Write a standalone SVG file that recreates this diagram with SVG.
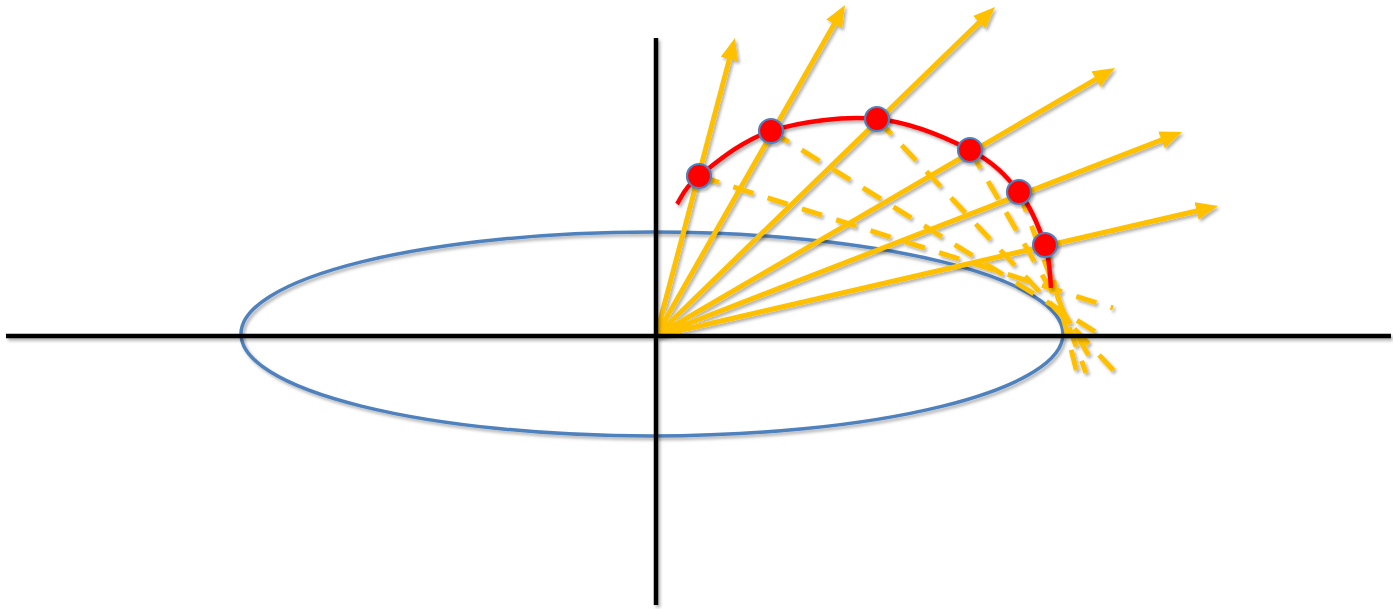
<svg xmlns="http://www.w3.org/2000/svg" width="1393" height="609" viewBox="0 0 1393 609">
<style>
.ray{stroke:#FFC000;stroke-width:5;fill:none;marker-end:url(#arr)}
.dash{stroke:#FFC000;stroke-width:5;fill:none;stroke-dasharray:21 15}
.axis{stroke:#000;stroke-width:4.5;fill:none}
.pt{fill:#FF0000;stroke:#4F81BD;stroke-width:2.2}
</style>
<defs>
<filter id="sh" x="-10%" y="-10%" width="130%" height="130%">
<feDropShadow dx="2" dy="2.5" stdDeviation="1.6" flood-color="#000" flood-opacity="0.3"/>
</filter>
<marker id="arr" viewBox="0 0 22 18" markerWidth="22" markerHeight="18" refX="10" refY="9" orient="auto" markerUnits="userSpaceOnUse">
<path d="M0,0 L22,9 L0,18 z" fill="#FFC000"/>
</marker>
</defs>
<rect width="1393" height="609" fill="#fff"/>
<g id="ellipse" filter="url(#sh)">
<ellipse cx="652" cy="334" rx="411" ry="102" fill="none" stroke="#4F81BD" stroke-width="3.5"/>
</g>
<g id="connectors" filter="url(#sh)">
<line class="ray" x1="656" y1="336" x2="731.9" y2="49.6"/>
<line class="ray" x1="656" y1="336" x2="839.1" y2="15.4"/>
<line class="ray" x1="656" y1="336" x2="986.4" y2="15.4"/>
<line class="ray" x1="656" y1="336" x2="1104.6" y2="74.1"/>
<line class="ray" x1="656" y1="336" x2="1170.8" y2="136.3"/>
<line class="ray" x1="656" y1="336" x2="1206.3" y2="208.7"/>
<line class="dash" x1="699" y1="176" x2="1113" y2="308"/>
<line class="dash" x1="771" y1="131" x2="1107" y2="339"/>
<line class="dash" x1="877" y1="119" x2="1116" y2="373"/>
<line class="dash" x1="970" y1="150" x2="1093" y2="363"/>
<line class="dash" x1="1019" y1="192" x2="1086" y2="373"/>
<line class="dash" x1="1045" y1="245" x2="1079" y2="381"/>
</g>
<g id="pedal-curve" filter="url(#sh)">
<path d="M677,204 C680.7,199.3 683.3,188.2 699,176 C714.7,163.8 741.3,140.5 771,131 C800.7,121.5 843.8,115.8 877,119 C910.2,122.2 946.3,137.8 970,150 C993.7,162.2 1006.5,176.2 1019,192 C1031.5,207.8 1039.7,229.2 1045,245 C1050.3,260.8 1050,280 1051,288" fill="none" stroke="#FF0000" stroke-width="4.5"/>
</g>
<g id="axes" filter="url(#sh)">
<line class="axis" x1="6" y1="336" x2="1391" y2="336"/>
<line class="axis" x1="656" y1="38" x2="656" y2="605"/>
</g>
<g id="p1" filter="url(#sh)"><circle class="pt" cx="699" cy="176" r="12"/></g>
<g id="p2" filter="url(#sh)"><circle class="pt" cx="771" cy="131" r="12"/></g>
<g id="p3" filter="url(#sh)"><circle class="pt" cx="877" cy="119" r="12"/></g>
<g id="p4" filter="url(#sh)"><circle class="pt" cx="970" cy="150" r="12"/></g>
<g id="p5" filter="url(#sh)"><circle class="pt" cx="1019" cy="192" r="12"/></g>
<g id="p6" filter="url(#sh)"><circle class="pt" cx="1045" cy="245" r="12"/></g>
</svg>
